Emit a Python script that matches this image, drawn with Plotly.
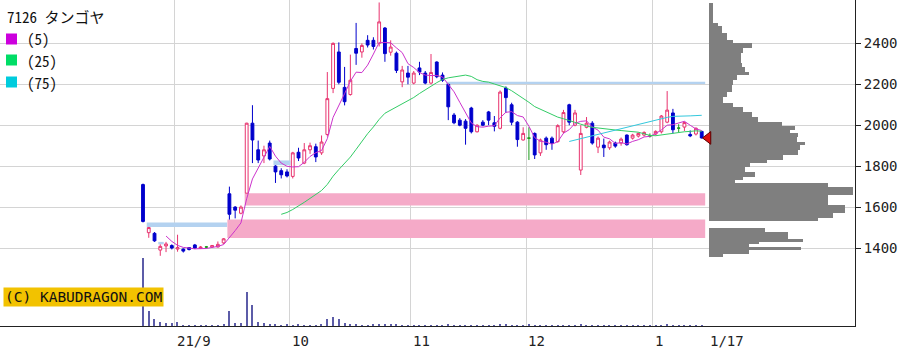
import numpy as np
import pandas as pd
import plotly.graph_objects as go

# ---------------- data ----------------
TITLE = "7126 タンゴヤ"
MA_PERIODS = [5, 25, 75]
MA_LABELS = ["(5)", "(25)", "(75)"]
MONTH_LABELS = ["21/9", "10", "11", "12", "1"]
LAST_LABEL = "1/17"
Y_TICKS = [1400, 1600, 1800, 2000, 2200, 2400]
COPYRIGHT = "(C) KABUDRAGON.COM"

HOLIDAYS = ["2021-09-20", "2021-09-23", "2021-11-03", "2021-11-23",
            "2021-12-31", "2022-01-03", "2022-01-10"]
dates = [d for d in pd.bdate_range("2021-08-24", "2022-01-17")
         if d.strftime("%Y-%m-%d") not in HOLIDAYS]

opens = [1710, 1475, 1472, 1390, 1410, 1412, 1395, 1395, 1402, 1415,
         1398, 1405, 1405, 1405, 1425, 1665, 1600, 1570, 1668, 2010,
         1880, 1850, 1913, 1800, 1778, 1772, 1750, 1868, 1815, 1880,
         1895, 1865, 1955, 2180, 2358, 2185, 2150, 2375, 2358, 2415,
         2415, 2400, 2475, 2357, 2352, 2212, 2255, 2206, 2280, 2255,
         2206, 2309, 2245, 2200, 2050, 2025, 2020, 2084, 1968, 2015,
         2065, 2012, 1985, 2182, 2100, 2015, 1928, 1937, 1960, 1865,
         1937, 1937, 1920, 1968, 2100, 2000, 1781, 1990, 2010, 1893,
         1903, 1890, 1913, 1913, 1952, 1937, 1947, 1952, 1947, 1957,
         1968, 2015, 2060, 1986, 1991, 1955, 1957, 1970]
highs = [1715, 1503, 1478, 1418, 1430, 1418, 1465, 1398, 1405, 1420,
         1410, 1410, 1415, 1432, 1449, 1700, 1605, 1608, 2012, 2098,
         1925, 1900, 1925, 1805, 1790, 1785, 1870, 1890, 1913, 1915,
         1910, 1950, 2260, 2405, 2405, 2285, 2345, 2500, 2400, 2440,
         2430, 2600, 2480, 2415, 2360, 2290, 2290, 2265, 2310, 2265,
         2348, 2312, 2258, 2202, 2060, 2035, 2030, 2090, 2005, 2025,
         2070, 2045, 2170, 2190, 2110, 2020, 1990, 1990, 1965, 1935,
         1945, 1945, 2005, 2075, 2105, 2075, 2000, 2040, 2020, 1945,
         1935, 1925, 1920, 1940, 1955, 1958, 1965, 1970, 1960, 1975,
         2050, 2167, 2080, 2005, 2018, 1975, 1990, 1972]
lows = [1525, 1450, 1430, 1362, 1380, 1393, 1382, 1378, 1388, 1395,
        1395, 1398, 1400, 1403, 1420, 1539, 1545, 1565, 1668, 1815,
        1815, 1815, 1828, 1718, 1740, 1745, 1740, 1825, 1810, 1860,
        1820, 1855, 1945, 2157, 2200, 2097, 2145, 2295, 2330, 2380,
        2370, 2385, 2310, 2340, 2255, 2186, 2200, 2200, 2245, 2200,
        2200, 2230, 2212, 2025, 2005, 1995, 1905, 1960, 1965, 1995,
        2000, 1970, 1980, 2060, 2000, 1895, 1925, 1830, 1835, 1850,
        1880, 1880, 1915, 1960, 2000, 1995, 1757, 1985, 1905, 1864,
        1845, 1880, 1890, 1900, 1900, 1930, 1940, 1945, 1940, 1950,
        1960, 2010, 1960, 1966, 1972, 1942, 1950, 1935]
closes = [1530, 1500, 1435, 1408, 1420, 1400, 1402, 1385, 1393, 1400,
          1405, 1405, 1412, 1418, 1445, 1565, 1585, 1600, 2010, 1928,
          1830, 1880, 1835, 1772, 1758, 1752, 1865, 1840, 1880, 1900,
          1845, 1918, 2130, 2400, 2210, 2115, 2220, 2352, 2390, 2392,
          2385, 2505, 2350, 2382, 2268, 2270, 2235, 2255, 2260, 2206,
          2258, 2237, 2220, 2090, 2012, 2000, 1985, 1968, 2000, 2000,
          2025, 1995, 2162, 2135, 2015, 1930, 1960, 1937, 1855, 1928,
          1905, 1912, 1998, 2062, 2015, 2060, 1960, 2010, 1913, 1937,
          1890, 1918, 1898, 1932, 1905, 1952, 1960, 1965, 1947, 1970,
          2045, 2074, 1978, 1986, 2013, 1948, 1985, 1938]
volumes = [1020, 225, 105, 60, 45, 38, 60, 15, 12, 14,
           10, 9, 11, 13, 18, 225, 45, 45, 510, 315,
           60, 45, 30, 30, 15, 28, 14, 16, 12, 14,
           15, 18, 105, 135, 105, 45, 30, 30, 15, 14,
           16, 25, 22, 20, 18, 12, 14, 12, 10, 11,
           12, 10, 11, 16, 12, 10, 14, 12, 10, 11,
           10, 9, 18, 25, 12, 14, 10, 30, 14, 10,
           9, 10, 11, 12, 10, 12, 22, 11, 10, 9,
           10, 9, 8, 9, 10, 9, 8, 9, 8, 9,
           11, 18, 12, 9, 8, 9, 8, 10]

# volume-by-price profile (price band top, band bottom, relative volume)
profile_top = [2595, 2501, 2485, 2449, 2416, 2400, 2376, 2351, 2302, 2286,
               2262, 2245, 2221, 2196, 2164, 2139, 2107, 2090, 2066, 2042,
               2017, 1996, 1976, 1960, 1944, 1919, 1903, 1879, 1854, 1830,
               1814, 1797, 1773, 1748, 1732, 1716, 1700, 1659, 1610, 1569,
               1545, 1499, 1480, 1442, 1431, 1419, 1406, 1390, 1373]
profile_bottom = [2501, 2485, 2449, 2416, 2400, 2376, 2351, 2302, 2286, 2262,
                  2245, 2221, 2196, 2164, 2139, 2107, 2090, 2066, 2042, 2017,
                  1996, 1976, 1960, 1944, 1919, 1903, 1879, 1854, 1830, 1814,
                  1797, 1773, 1748, 1732, 1716, 1700, 1659, 1610, 1569, 1545,
                  1533, 1480, 1442, 1431, 1419, 1406, 1390, 1373, 1357]
profile_volume = [4, 9, 13, 18, 24, 43, 34, 32, 33, 36,
                  40, 28, 24, 23, 18, 14, 24, 34, 43, 49,
                  73, 86, 81, 89, 88, 96, 91, 89, 74, 58,
                  41, 36, 46, 34, 26, 119, 144, 119, 136, 124,
                  109, 56, 79, 94, 50, 40, 92, 40, 14]

# ---------------- styling / geometry ----------------
W, H = 918, 356
ML, MR, MT, MB = 0, 63, 0, 30
PW, PH = W - ML - MR, H - MT - MB
PX_PER_DAY = 5.76
FIRST_PX = 143.0
X_RANGE = [-FIRST_PX / PX_PER_DAY, (PW - FIRST_PX) / PX_PER_DAY]
Y_RANGE = [1019, 2612]
PROFILE_LEFT_PX = 709
PROFILE_PAD_PX = 8          # room left of the profile for the last-price marker
GRID = "#d4d4d4"
UP = "#e8336e"
DOWN = "#0000cc"
DOJI = "#1a9a1a"
MA_LINE_COLORS = ["#cc33cc", "#33cc66", "#33c8dd"]
MA_KEY_COLORS = ["#cc00dd", "#00dd66", "#00ccdd"]
BLUE_GAP = "#b4d2f0"
PINK_GAP = "#f5aac8"
MONO = "DejaVu Sans Mono, Liberation Mono, monospace"
JP = "Noto Sans Mono CJK JP, Noto Sans CJK JP, sans-serif"

n = len(dates)
idx = np.arange(n)
o = np.array(opens, float); h = np.array(highs, float)
l = np.array(lows, float); c = np.array(closes, float)
doji = o == c

fig = go.Figure()

# gap "windows" derived from the OHLC data
shapes = []
for i in range(1, n):
    if l[i] > h[i - 1]:
        lo, hi, col = h[i - 1], l[i], PINK_GAP
        end = next((j for j in range(i + 1, n) if l[j] <= lo), n)
    elif h[i] < l[i - 1]:
        lo, hi, col = h[i], l[i - 1], BLUE_GAP
        end = next((j for j in range(i + 1, n) if h[j] >= hi), n)
    else:
        continue
    shapes.append(dict(type="rect", xref="x", yref="y", x0=i - 0.35, x1=end - 0.4,
                       y0=lo, y1=hi, fillcolor=col, line=dict(width=0), layer="between"))

# candles
nd = ~doji
fig.add_trace(go.Candlestick(
    x=idx[nd], open=o[nd], high=h[nd], low=l[nd], close=c[nd],
    increasing=dict(line=dict(color=UP, width=1), fillcolor="white"),
    decreasing=dict(line=dict(color=DOWN, width=1), fillcolor=DOWN),
    whiskerwidth=0, showlegend=False, hoverinfo="skip"))
fig.add_trace(go.Candlestick(
    x=idx[doji], open=o[doji], high=h[doji], low=l[doji], close=c[doji],
    increasing=dict(line=dict(color=DOJI, width=1), fillcolor=DOJI),
    decreasing=dict(line=dict(color=DOJI, width=1), fillcolor=DOJI),
    whiskerwidth=0, showlegend=False, hoverinfo="skip"))

# moving averages
cs = pd.Series(c)
for p, col in zip(MA_PERIODS, MA_LINE_COLORS):
    fig.add_trace(go.Scatter(x=idx, y=cs.rolling(p).mean(), mode="lines",
                             line=dict(color=col, width=1), showlegend=False,
                             hoverinfo="skip"))

# volume
vmax = max(volumes)
fig.add_trace(go.Bar(x=idx, y=volumes, yaxis="y3", width=0.2,
                     marker=dict(color="#5c5ca8", line=dict(width=0)),
                     showlegend=False, hoverinfo="skip"))

# price profile + last price marker
pt = np.array(profile_top, float); pb = np.array(profile_bottom, float)
fig.add_trace(go.Bar(y=(pt + pb) / 2, x=profile_volume, width=pt - pb, orientation="h",
                     xaxis="x2", yaxis="y", marker=dict(color="#7f7f7f", line=dict(width=0)),
                     showlegend=False, hoverinfo="skip"))
fig.add_trace(go.Scatter(x=[-1], y=[closes[-1]], xaxis="x2", yaxis="y", mode="markers",
                         marker=dict(symbol="triangle-left", size=11, color="#dd1111",
                                     line=dict(color="#5a0000", width=1)),
                         cliponaxis=False, showlegend=False, hoverinfo="skip"))

# month grid positions
month_starts = [i for i in range(1, n) if dates[i].month != dates[i - 1].month]
grid_x = [i - 0.5 for i in month_starts]

def py(px):
    return 1 - px / PH

def pxx(px):
    return px / PW

annotations = []
for gx, lab in zip(grid_x, MONTH_LABELS):
    annotations.append(dict(x=gx, y=0, xref="x", yref="paper", text=lab, showarrow=False,
                            xanchor="left", yanchor="middle", yshift=-15, xshift=0,
                            font=dict(family=MONO, size=14, color="#222")))
annotations.append(dict(x=n - 0.5, y=0, xref="x", yref="paper", text=LAST_LABEL,
                        showarrow=False, xanchor="left", yanchor="middle", yshift=-15,
                        xshift=3, font=dict(family=MONO, size=14, color="#222")))

# legend block
annotations.append(dict(x=pxx(5), y=py(16), xref="paper", yref="paper", text=TITLE,
                        showarrow=False, xanchor="left", yanchor="middle",
                        font=dict(family=JP, size=15, color="#111")))
row_y = [39, 60, 82]
for ry, lab, col in zip(row_y, MA_LABELS, MA_KEY_COLORS):
    shapes.append(dict(type="rect", xref="paper", yref="paper", x0=pxx(17), x1=pxx(27 + 9 * len(lab)),
                       y0=py(ry + 7), y1=py(ry - 7), fillcolor="white", line=dict(width=0),
                       layer="between"))
    shapes.append(dict(type="rect", xref="paper", yref="paper", x0=pxx(6), x1=pxx(17),
                       y0=py(ry + 5.5), y1=py(ry - 5.5), fillcolor=col, line=dict(width=0),
                       layer="above"))
    annotations.append(dict(x=pxx(25), y=py(ry), xref="paper", yref="paper", text=lab,
                            showarrow=False, xanchor="left", yanchor="middle",
                            font=dict(family=JP, size=15, color="#111")))

annotations.append(dict(x=pxx(3), y=py(297), xref="paper", yref="paper", text=COPYRIGHT,
                        showarrow=False, xanchor="left", yanchor="middle", bgcolor="#f2c200",
                        borderpad=1, font=dict(family=MONO, size=14.5, color="#111")))

fig.update_layout(
    width=W, height=H, margin=dict(l=ML, r=MR, t=MT, b=MB),
    paper_bgcolor="white", plot_bgcolor="rgba(0,0,0,0)", showlegend=False,
    barmode="overlay", bargap=0,
    xaxis=dict(range=X_RANGE, tickvals=grid_x, showticklabels=False, ticks="",
               showgrid=True, gridcolor=GRID, gridwidth=1, zeroline=False,
               showline=True, linecolor="#222", linewidth=1, rangeslider=dict(visible=False),
               fixedrange=True),
    yaxis=dict(range=Y_RANGE, side="right", tickvals=Y_TICKS, showgrid=True, gridcolor=GRID,
               gridwidth=1, zeroline=False, showline=True, linecolor="#222", linewidth=1,
               ticks="outside", ticklen=5, tickcolor="#222",
               tickfont=dict(family=MONO, size=14, color="#222")),
    yaxis3=dict(range=[0, vmax * PH / 68], overlaying="y", visible=False),
    xaxis2=dict(domain=[(PROFILE_LEFT_PX - PROFILE_PAD_PX) / PW, 1],
                range=[-PROFILE_PAD_PX, PW - PROFILE_LEFT_PX], anchor="y",
                visible=False, showgrid=False, zeroline=False),
    shapes=shapes, annotations=annotations,
)

fig.write_html("out.html", config={"displayModeBar": False},
               post_script="document.body.style.margin='0';document.body.style.overflow='hidden';")
